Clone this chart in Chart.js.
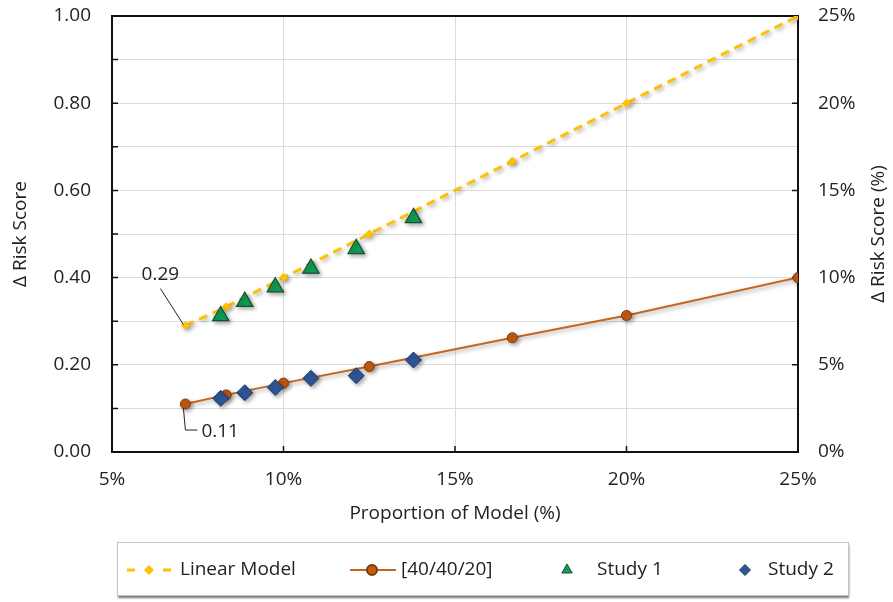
<!DOCTYPE html>
<html>
<head>
<meta charset="utf-8">
<script src="https://cdn.jsdelivr.net/npm/chart.js@4/dist/chart.umd.min.js"></script>
<style>
  html, body { margin: 0; padding: 0; background: #fff; }
  #wrap { width: 893px; height: 602px; }
</style>
</head>
<body>
<div id="wrap"><canvas id="chart" width="893" height="602"></canvas></div>
<script>
// Proportion of model (%) for the two reference curves
const modelShare = [7.14, 8.33, 10, 12.5, 16.67, 20, 25];
// Δ risk score of the linear model and of the [40/40/20] weighting
const linearScore = [0.29, 0.333, 0.40, 0.50, 0.667, 0.80, 1.00];
const mixScore = [0.11, 0.131, 0.158, 0.196, 0.262, 0.313, 0.40];
// Proportion of model (%) for the study observations
const studyShare = [8.17, 8.87, 9.76, 10.8, 12.12, 13.79];
const study1Score = [0.312, 0.345, 0.378, 0.421, 0.466, 0.537];
const study2Score = [0.123, 0.136, 0.148, 0.169, 0.175, 0.211];

const seriesNames = ['Linear Model', '[40/40/20]', 'Study 1', 'Study 2'];
const axisTitles = { x: 'Proportion of Model (%)', y: 'Δ Risk Score', y2: 'Δ Risk Score (%)' };

const TEXT = '#222';
const FONT = '"Open Sans", "Noto Sans", sans-serif';
Chart.defaults.font.family = FONT;
Chart.defaults.font.size = 19;
Chart.defaults.color = TEXT;

const pts = (xs, ys) => xs.map((x, i) => ({ x, y: ys[i] }));

// soft drop shadow under every series
const shade = {
  id: 'shade',
  beforeDatasetDraw(chart) {
    const c = chart.ctx;
    c.save();
    c.shadowColor = 'rgba(0,0,0,0.35)';
    c.shadowBlur = 4;
    c.shadowOffsetX = 2;
    c.shadowOffsetY = 2;
  },
  afterDatasetDraw(chart) { chart.ctx.restore(); }
};

// black plot frame with inward tick marks
const frame = {
  id: 'frame',
  beforeDatasetsDraw(chart) {
    const { ctx, chartArea: a, scales } = chart;
    ctx.save();
    ctx.strokeStyle = '#111';
    ctx.lineWidth = 2;
    ctx.strokeRect(a.left, a.top, a.right - a.left, a.bottom - a.top);
    ctx.lineWidth = 1.5;
    ctx.beginPath();
    scales.y.ticks.forEach(t => {
      const p = scales.y.getPixelForValue(t.value);
      ctx.moveTo(a.left, p); ctx.lineTo(a.left + 6, p);
    });
    scales.y2.ticks.forEach(t => {
      const p = scales.y2.getPixelForValue(t.value);
      ctx.moveTo(a.right, p); ctx.lineTo(a.right - 6, p);
    });
    scales.x.ticks.forEach(t => {
      const p = scales.x.getPixelForValue(t.value);
      ctx.moveTo(p, a.bottom); ctx.lineTo(p, a.bottom - 6);
    });
    ctx.stroke();
    ctx.restore();
  }
};

// value call-outs on the first point of each curve
const callouts = {
  id: 'callouts',
  afterDatasetsDraw(chart) {
    const { ctx, scales: { x, y } } = chart;
    const px = x.getPixelForValue(modelShare[0]);
    const pa = y.getPixelForValue(linearScore[0]);
    const pb = y.getPixelForValue(mixScore[0]);
    ctx.save();
    ctx.strokeStyle = '#222';
    ctx.lineWidth = 1;
    ctx.beginPath();
    ctx.moveTo(px - 25, pa - 37);
    ctx.lineTo(px - 2, pa - 1);
    ctx.moveTo(px - 2, pb + 4);
    ctx.lineTo(px, pb + 26);
    ctx.lineTo(px + 12, pb + 26);
    ctx.stroke();
    ctx.fillStyle = TEXT;
    ctx.font = '19px ' + FONT;
    ctx.textBaseline = 'middle';
    ctx.textAlign = 'center';
    ctx.fillText(linearScore[0].toFixed(2), px - 25, pa - 51);
    ctx.textAlign = 'left';
    ctx.fillText(mixScore[0].toFixed(2), px + 16, pb + 28);
    ctx.restore();
  }
};

// right-hand axis title (reads bottom to top) and boxed legend
const extras = {
  id: 'extras',
  afterDraw(chart) {
    const { ctx, chartArea: a, scales } = chart;
    ctx.save();
    ctx.fillStyle = TEXT;
    ctx.font = '19px ' + FONT;
    ctx.textAlign = 'center';
    ctx.textBaseline = 'middle';
    ctx.translate(scales.y2.right - 14, (a.top + a.bottom) / 2);
    ctx.rotate(-Math.PI / 2);
    ctx.fillText(axisTitles.y2, 0, 0);
    ctx.restore();

    // legend box
    const box = { l: 117, t: 542, w: 731, h: 53 };
    ctx.save();
    ctx.shadowColor = 'rgba(0,0,0,0.55)';
    ctx.shadowBlur = 2;
    ctx.shadowOffsetX = 1;
    ctx.shadowOffsetY = 3;
    ctx.fillStyle = '#fff';
    ctx.fillRect(box.l, box.t, box.w, box.h);
    ctx.restore();
    ctx.save();
    ctx.strokeStyle = '#c4c4c4';
    ctx.lineWidth = 1;
    ctx.strokeRect(box.l + 0.5, box.t + 0.5, box.w, box.h);
    ctx.restore();

    const cy = 570;
    const sampleX = [149, 372, 567, 745];
    const textX = [180, 401, 597, 768];
    chart.data.datasets.forEach((ds, i) => {
      const sx = sampleX[i];
      ctx.save();
      if (ds.showLine) {
        ctx.strokeStyle = ds.borderColor;
        ctx.lineWidth = ds.borderDash ? 3 : 2;
        ctx.setLineDash(ds.borderDash ? [8, 28] : []);
        ctx.beginPath();
        ctx.moveTo(sx - 22, cy);
        ctx.lineTo(sx + 24, cy);
        ctx.stroke();
        ctx.setLineDash([]);
      }
      ctx.fillStyle = ds.pointBackgroundColor || ds.backgroundColor;
      ctx.strokeStyle = ds.pointBorderColor || ds.borderColor;
      Chart.helpers.drawPoint(ctx, {
        pointStyle: ds.pointStyle,
        radius: ds.legendRadius,
        borderWidth: ds.pointBorderWidth || 0,
        rotation: 0
      }, sx, cy);
      ctx.fillStyle = TEXT;
      ctx.font = '19px ' + FONT;
      ctx.textAlign = 'left';
      ctx.textBaseline = 'middle';
      ctx.fillText(ds.label, textX[i], cy);
      ctx.restore();
    });
  }
};

// fixed axis widths; no extra label overhang above or below the plot
const fixWidth = w => s => { s.width = w; s.paddingTop = 0; s.paddingBottom = 0; };

new Chart(document.getElementById('chart'), {
  type: 'scatter',
  data: {
    datasets: [
      {
        label: seriesNames[0],
        data: pts(modelShare, linearScore),
        showLine: true,
        borderColor: '#FFC000',
        backgroundColor: '#FFC000',
        borderWidth: 3,
        borderDash: [9, 6],
        pointStyle: 'rectRot',
        pointRadius: 4.5,
        pointBorderWidth: 0,
        legendRadius: 5,
        order: 2
      },
      {
        label: seriesNames[1],
        data: pts(modelShare, mixScore),
        showLine: true,
        borderColor: '#C8651E',
        backgroundColor: '#C55A11',
        pointBackgroundColor: '#C55A11',
        pointBorderColor: '#7a3a0e',
        borderWidth: 2,
        pointStyle: 'circle',
        pointRadius: 5,
        pointBorderWidth: 1,
        legendRadius: 5,
        order: 1
      },
      {
        label: seriesNames[2],
        data: pts(studyShare, study1Score),
        showLine: false,
        pointStyle: 'triangle',
        pointRadius: 9.5,
        backgroundColor: '#0E9F57',
        pointBackgroundColor: '#0E9F57',
        borderColor: '#1d4d33',
        pointBorderColor: '#1d4d33',
        pointBorderWidth: 1.2,
        legendRadius: 6,
        order: 0
      },
      {
        label: seriesNames[3],
        data: pts(studyShare, study2Score),
        showLine: false,
        pointStyle: 'rectRot',
        pointRadius: 8,
        backgroundColor: '#2F5597',
        pointBackgroundColor: '#2F5597',
        borderColor: '#1F3864',
        pointBorderColor: '#1F3864',
        pointBorderWidth: 1,
        legendRadius: 5.5,
        order: 0
      }
    ]
  },
  options: {
    responsive: false,
    devicePixelRatio: 1,
    animation: false,
    events: [],
    layout: { padding: { top: 16, bottom: 70, left: 0, right: 0 } },
    elements: { line: { tension: 0 } },
    plugins: { legend: { display: false }, tooltip: { enabled: false } },
    scales: {
      x: {
        type: 'linear',
        min: 5, max: 25,
        ticks: { stepSize: 5, padding: 16, callback: v => v + '%' },
        grid: { color: '#dcdcdc', drawTicks: false },
        border: { display: false },
        title: { display: true, text: axisTitles.x, padding: { top: 0, bottom: 7 } },
        afterFit(s) { s.height = 80; }
      },
      y: {
        position: 'left',
        min: 0, max: 1,
        ticks: {
          stepSize: 0.1, padding: 21, autoSkip: false,
          callback: v => (Math.round(v * 10) % 2 === 0 ? v.toFixed(2) : '')
        },
        grid: { color: '#dcdcdc', drawTicks: false },
        border: { display: false },
        title: { display: true, text: axisTitles.y, padding: { top: 9, bottom: 0 } },
        afterFit: fixWidth(112)
      },
      y2: {
        position: 'right',
        min: 0, max: 25,
        ticks: { stepSize: 5, padding: 20, callback: v => v + '%' },
        grid: { drawOnChartArea: false, drawTicks: false },
        border: { display: false },
        afterFit: fixWidth(95)
      }
    }
  },
  plugins: [shade, frame, callouts, extras]
});
</script>
</body>
</html>
